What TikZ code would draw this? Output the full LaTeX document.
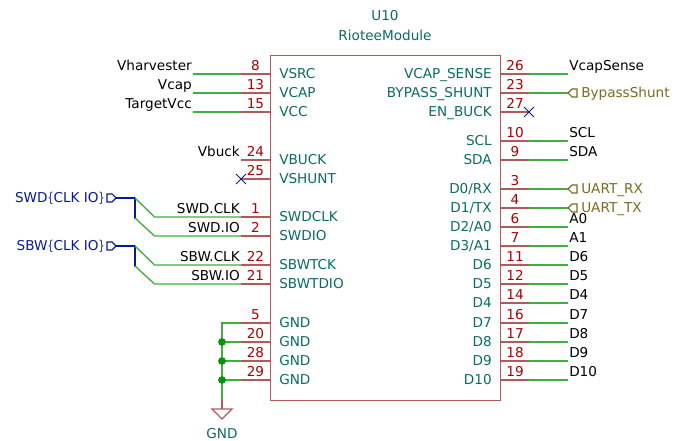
\documentclass[tikz,border=0pt]{standalone}
\usepackage{fontspec}
\usepackage{graphicx}
\setmainfont{DejaVu Sans}
\definecolor{pinc}{HTML}{B05A5A}
\definecolor{wirec}{HTML}{3FB03F}
\definecolor{numc}{HTML}{A80000}
\definecolor{namec}{HTML}{0A6A6A}
\definecolor{busc}{HTML}{0A1A96}
\definecolor{globc}{HTML}{7A6A20}
\definecolor{dotc}{HTML}{009600}
\tikzset{
  txt/.style={inner sep=0pt,font=\fontsize{10.2}{12}\selectfont},
  pinline/.style={draw=pinc,line width=1pt},
  wireline/.style={draw=wirec,line width=1pt},
  busline/.style={draw=busc,line width=2pt},
  nclabel/.style={draw=busc,line width=.7pt},
  num/.style={txt,text=numc,anchor=base},
  lname/.style={txt,text=namec,anchor=base west},
  rname/.style={txt,text=namec,anchor=base east},
  wlabl/.style={txt,text=black,anchor=base east},
  wlabr/.style={txt,text=black,anchor=base west},
  glab/.style={txt,text=globc,anchor=base west},
  hlab/.style={txt,text=busc,anchor=base east},
  flagc/.style={draw=#1,line width=.8pt,fill=white},
  dotn/.style={circle,fill=dotc,inner sep=0pt,minimum size=5.8pt},
}
\newcommand\nbl{\scalebox{.7}[1]{\{}}
\newcommand\nbr{\scalebox{.7}[1]{\}}}
% y, number, pin name (left side)
\newcommand\lpin[3]{%
  \coordinate (b#2) at (270,#1);
  \coordinate (e#2) at (241,#1);
  \draw[pinline] (b#2) -- (e#2);
  \node[num] (n#2) at (255.5,#1-3.3) {#2};
  \node[lname] (t#2) at (279,#1+5) {#3};
}
% y, number, pin name (right side)
\newcommand\rpin[3]{%
  \coordinate (b#2) at (500,#1);
  \coordinate (e#2) at (529,#1);
  \draw[pinline] (b#2) -- (e#2);
  \node[num] (n#2) at (515,#1-3.3) {#2};
  \node[rname] (t#2) at (492,#1+5) {#3};
}
% right wire with a plain label: y, number, label
\newcommand\rwire[3]{%
  \coordinate (w#2) at (568,#1);
  \draw[wireline] (e#2) -- (w#2);
  \node[wlabr] (l#2) at (569,#1-3.7) {#3};
}
% right wire with a global label: y, number, label
\newcommand\rglob[3]{%
  \coordinate (w#2) at (568,#1);
  \draw[wireline] (e#2) -- (w#2);
  \draw[flagc=globc] (w#2) -- ++(4,-4) -- ++(5,0) -- ++(0,8) -- ++(-5,0) -- cycle;
  \node[glab] (l#2) at (581,#1+5) {#3};
}
% no-connect mark
\newcommand\ncmark[1]{%
  \draw[nclabel] ($(#1)+(-5,-5)$) -- ($(#1)+(5,5)$) ($(#1)+(-5,5)$) -- ($(#1)+(5,-5)$);
}
\usetikzlibrary{calc}
\begin{document}
\begin{tikzpicture}[x=0.75pt,y=-0.75pt]
\useasboundingbox (0,0) rectangle (675,441);
% title
\node[txt,text=namec,anchor=base] (ref) at (385,21) {U10};
\node[txt,text=namec,anchor=base] (val) at (385,41) {RioteeModule};
% left pins
\lpin{74}{8}{VSRC}
\lpin{93}{13}{VCAP}
\lpin{112}{15}{VCC}
\lpin{160}{24}{VBUCK}
\lpin{179}{25}{VSHUNT}
\lpin{217}{1}{SWDCLK}
\lpin{236}{2}{SWDIO}
\lpin{265}{22}{SBWTCK}
\lpin{284}{21}{SBWTDIO}
\lpin{323}{5}{GND}
\lpin{342}{20}{GND}
\lpin{361}{28}{GND}
\lpin{380}{29}{GND}
% right pins
\rpin{74}{26}{VCAP\_SENSE}
\rpin{93}{23}{BYPASS\_SHUNT}
\rpin{112}{27}{EN\_BUCK}
\rpin{141}{10}{SCL}
\rpin{160}{9}{SDA}
\rpin{189}{3}{D0/RX}
\rpin{208}{4}{D1/TX}
\rpin{227}{6}{D2/A0}
\rpin{246}{7}{D3/A1}
\rpin{265}{11}{D6}
\rpin{284}{12}{D5}
\rpin{303}{14}{D4}
\rpin{323}{16}{D7}
\rpin{342}{17}{D8}
\rpin{361}{18}{D9}
\rpin{380}{19}{D10}
% body
\node[draw=pinc,line width=1pt,minimum width=172.5pt,minimum height=258.75pt,inner sep=0pt,anchor=north west] (u10) at (270,55) {};
% left plain wires
\foreach \pn/\yy/\lab in {8/74/Vharvester,13/93/Vcap,15/112/TargetVcc}{
  \coordinate (w\pn) at (193,\yy);
  \draw[wireline] (e\pn) -- (w\pn);
  \node[wlabl] (l\pn) at (192,\yy-3.7) {\lab};
}
\node[wlabl] (l24) at (240,156.5) {Vbuck};
\ncmark{e25}
% right wires
\rwire{74}{26}{VcapSense}
\rglob{93}{23}{BypassShunt}
\ncmark{e27}
\rwire{141}{10}{SCL}
\rwire{160}{9}{SDA}
\rglob{189}{3}{UART\_RX}
\rglob{208}{4}{UART\_TX}
\rwire{227}{6}{A0}
\rwire{246}{7}{A1}
\rwire{265}{11}{D6}
\rwire{284}{12}{D5}
\rwire{303}{14}{D4}
\rwire{323}{16}{D7}
\rwire{342}{17}{D8}
\rwire{361}{18}{D9}
\rwire{380}{19}{D10}
% SWD bus
\coordinate (swdh) at (116,198);
\coordinate (swdj) at (135,198);
\coordinate (swdk) at (135,218);
\coordinate (swdc) at (154.5,217);
\coordinate (swdi) at (154.5,236);
\draw[busline,line cap=round,line join=round] (swdh) -- (swdj) -- (swdk);
\draw[wireline] (swdj) -- (swdc) -- (e1);
\draw[wireline] (swdk) -- (swdi) -- (e2);
\draw[flagc=busc] (swdh) -- ++(-4,-4) -- ++(-5,0) -- ++(0,8) -- ++(5,0) -- cycle;
\node[hlab] (swdl) at (105,203) {SWD\nbl CLK IO\nbr};
\node[wlabl] (l1) at (240,214) {SWD.CLK};
\node[wlabl] (l2) at (240,233) {SWD.IO};
% SBW bus
\coordinate (sbwh) at (116,246);
\coordinate (sbwj) at (135,246);
\coordinate (sbwk) at (135,266);
\coordinate (sbwc) at (154.5,265);
\coordinate (sbwi) at (154.5,284);
\draw[busline,line cap=round,line join=round] (sbwh) -- (sbwj) -- (sbwk);
\draw[wireline] (sbwj) -- (sbwc) -- (e22);
\draw[wireline] (sbwk) -- (sbwi) -- (e21);
\draw[flagc=busc] (sbwh) -- ++(-4,-4) -- ++(-5,0) -- ++(0,8) -- ++(5,0) -- cycle;
\node[hlab] (sbwl) at (105,251) {SBW\nbl CLK IO\nbr};
\node[wlabl] (l22) at (240,262) {SBW.CLK};
\node[wlabl] (l21) at (240,281) {SBW.IO};
% GND net
\coordinate (gt) at (222,323);
\coordinate (g20) at (222,342);
\coordinate (g28) at (222,361);
\coordinate (g29) at (222,380);
\coordinate (gb) at (222,400);
\coordinate (gs) at (222,409);
\draw[wireline] (e5) -- (gt) -- (gb);
\draw[wireline] (e20) -- (g20);
\draw[wireline] (e28) -- (g28);
\draw[wireline] (e29) -- (g29);
\foreach \g in {g20,g28,g29} \node[dotn] (d\g) at (\g) {};
\draw[pinline] (gb) -- (gs);
\draw[pinline] (gs) -- ++(-10,0) -- ++(10,10) -- ++(10,-10) -- cycle;
\node[txt,text=namec,anchor=base] (gndt) at (222,439) {GND};
\end{tikzpicture}
\end{document}
